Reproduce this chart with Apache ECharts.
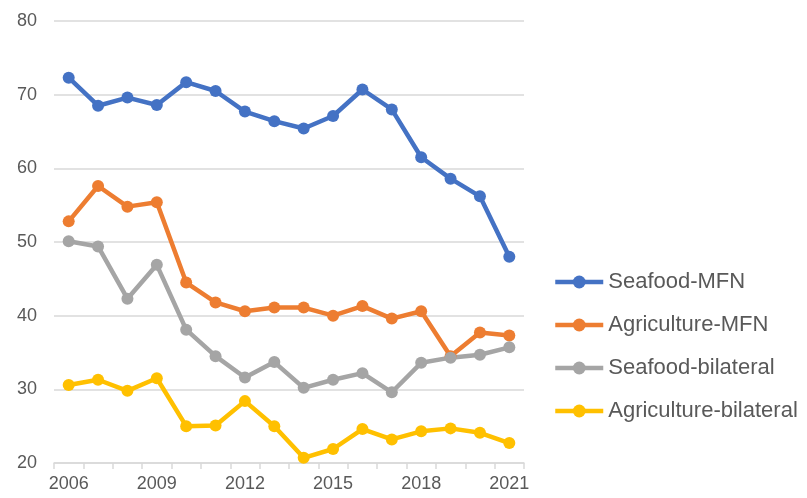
<!DOCTYPE html>
<html>
<head>
<meta charset="utf-8">
<script src="https://cdn.jsdelivr.net/npm/echarts@6/dist/echarts.min.js"></script>
<style>
    html, body { margin: 0; padding: 0; background: #ffffff; }
    #chart { width: 807px; height: 498px; }
</style>
</head>
<body>
<div id="chart"></div>
<script>
    const years = ["2006", "2007", "2008", "2009", "2010", "2011", "2012", "2013",
        "2014", "2015", "2016", "2017", "2018", "2019", "2020", "2021"];
    const seafoodMfn = [72.3, 68.5, 69.6, 68.6, 71.7, 70.5, 67.7, 66.4,
        65.4, 67.1, 70.7, 68.0, 61.5, 58.6, 56.2, 48.0];
    const agricultureMfn = [52.8, 57.6, 54.8, 55.4, 44.5, 41.8, 40.6, 41.1,
        41.1, 40.0, 41.3, 39.6, 40.6, 34.5, 37.7, 37.3];
    const seafoodBilateral = [50.1, 49.4, 42.3, 46.9, 38.1, 34.5, 31.6, 33.7,
        30.2, 31.3, 32.2, 29.6, 33.6, 34.3, 34.7, 35.7];
    const agricultureBilateral = [30.6, 31.3, 29.8, 31.5, 25.0, 25.1, 28.4, 25.0,
        20.7, 21.9, 24.6, 23.2, 24.3, 24.7, 24.1, 22.7];
    const yTicks = { min: 20, max: 80, interval: 10 };

    const textColor = "#595959";
    const gridColor = "#d9d9d9";
    const fontFamily = "'Liberation Sans', Arial, sans-serif";

    function lineSeries(name, data, color) {
        return {
            name,
            type: "line",
            data,
            symbol: "circle",
            symbolSize: 12,
            lineStyle: { width: 4.5, color },
            itemStyle: { color },
            emphasis: { disabled: true }
        };
    }

    const chart = echarts.init(document.getElementById("chart"), null, { renderer: "canvas" });

    chart.setOption({
        backgroundColor: "#ffffff",
        animation: false,
        grid: { left: 54, right: 283, top: 21, bottom: 35 },
        legend: {
            orient: "vertical",
            left: 548,
            top: 266,
            itemWidth: 48,
            itemHeight: 16,
            itemGap: 21,
            lineStyle: { width: 4.5 },
            textStyle: { color: textColor, fontSize: 22, fontFamily },
            data: ["Seafood-MFN", "Agriculture-MFN", "Seafood-bilateral", "Agriculture-bilateral"]
        },
        xAxis: {
            type: "category",
            data: years,
            boundaryGap: true,
            axisLine: { lineStyle: { color: gridColor, width: 1.5 } },
            axisTick: { show: true, interval: 0, length: 6, lineStyle: { color: gridColor, width: 1.5 } },
            axisLabel: { interval: 2, color: textColor, fontSize: 18, fontFamily, margin: 12 }
        },
        yAxis: {
            type: "value",
            min: yTicks.min,
            max: yTicks.max,
            interval: yTicks.interval,
            axisLine: { show: false },
            axisTick: { show: false },
            axisLabel: { color: textColor, fontSize: 18, fontFamily, margin: 17 },
            splitLine: { lineStyle: { color: gridColor, width: 1.5 } }
        },
        series: [
            lineSeries("Seafood-MFN", seafoodMfn, "#4472c4"),
            lineSeries("Agriculture-MFN", agricultureMfn, "#ed7d31"),
            lineSeries("Seafood-bilateral", seafoodBilateral, "#a5a5a5"),
            lineSeries("Agriculture-bilateral", agricultureBilateral, "#ffc000")
        ]
    });
</script>
</body>
</html>
